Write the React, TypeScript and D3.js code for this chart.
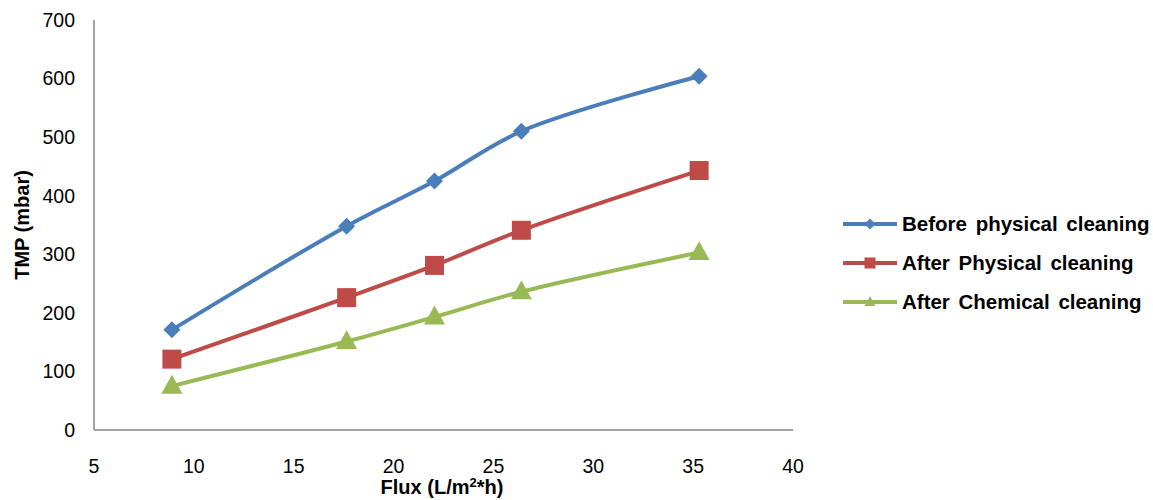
import React from "react";
import * as d3 from "d3";

const flux = [8.9, 17.65, 22.05, 26.4, 35.3];
const beforePhysical = [171, 348, 425, 510, 604];
const afterPhysical = [121, 226, 281, 341, 443];
const afterChemical = [75, 151, 193, 236, 303];
const xTicks = [5, 10, 15, 20, 25, 30, 35, 40];
const yTicks = [0, 100, 200, 300, 400, 500, 600, 700];
const seriesNames = ["Before physical cleaning", "After Physical cleaning", "After Chemical cleaning"];
const seriesColors = ["#4a7ebb", "#be4b48", "#98b954"];
const seriesShapes = ["diamond", "square", "triangle"];

const W = 1153, H = 500;
const font = "Arial, 'Liberation Sans', sans-serif";

function marker(shape: string, cx: number, cy: number, s: number, color: string, key?: any) {
  if (shape === "diamond") {
    const r = s / 2;
    return <path key={key} d={`M${cx},${cy - r}L${cx + r},${cy}L${cx},${cy + r}L${cx - r},${cy}Z`} fill={color} />;
  }
  if (shape === "square") {
    return <rect key={key} x={cx - s / 2} y={cy - s / 2} width={s} height={s} fill={color} />;
  }
  const h = s * 0.9;
  return <path key={key} d={`M${cx},${cy - h * 0.6}L${cx + s / 2},${cy + h * 0.4}L${cx - s / 2},${cy + h * 0.4}Z`} fill={color} />;
}

export default function App() {
  const x = d3.scaleLinear().domain([5, 40]).range([94, 793]);
  const y = d3.scaleLinear().domain([0, 700]).range([430, 20]);
  const series = [beforePhysical, afterPhysical, afterChemical];
  const line = d3.line<number>().x((_, i) => x(flux[i])).y((d) => y(d)).curve(d3.curveCatmullRom.alpha(0.5));
  const sizes = [17, 19, 21];
  return (
    <svg width={W} height={H} style={{ position: "absolute", left: 0, top: 0 }} fontFamily={font}>
      <rect width={W} height={H} fill="#fff" />
      <line x1={94} x2={94} y1={y(700)} y2={y(0)} stroke="#868686" strokeWidth={1.5} />
      <line x1={94} x2={x(40)} y1={y(0)} y2={y(0)} stroke="#868686" strokeWidth={1.5} />
      {yTicks.map((t) => (
        <text key={t} x={75} y={y(t)} dy="0.35em" textAnchor="end" fontSize={19.5} fill="#000">{t}</text>
      ))}
      {xTicks.map((t) => (
        <text key={t} x={x(t)} y={473} textAnchor="middle" fontSize={19.5} fill="#000">{t}</text>
      ))}
      <text transform={`translate(29,225) rotate(-90)`} textAnchor="middle" fontSize={20} fontWeight="bold">TMP (mbar)</text>
      <text x={442} y={494} textAnchor="middle" fontSize={20} fontWeight="bold">
        Flux (L/m<tspan dy={-7} fontSize={13}>2</tspan><tspan dy={7}>*h)</tspan>
      </text>
      {series.map((s, k) => (
        <g key={k}>
          <path d={line(s) || ""} fill="none" stroke={seriesColors[k]} strokeWidth={4} />
          {s.map((v, i) => marker(seriesShapes[k], x(flux[i]), y(v), sizes[k], seriesColors[k], i))}
        </g>
      ))}
      {seriesNames.map((n, k) => {
        const ly = 224 + k * 39;
        return (
          <g key={n}>
            <line x1={843} x2={897} y1={ly} y2={ly} stroke={seriesColors[k]} strokeWidth={4} />
            {marker(seriesShapes[k], 870, ly, 11, seriesColors[k])}
            <text x={902} y={ly} dy="0.35em" fontSize={20.5} fontWeight="bold" wordSpacing={3}>{n}</text>
          </g>
        );
      })}
    </svg>
  );
}
